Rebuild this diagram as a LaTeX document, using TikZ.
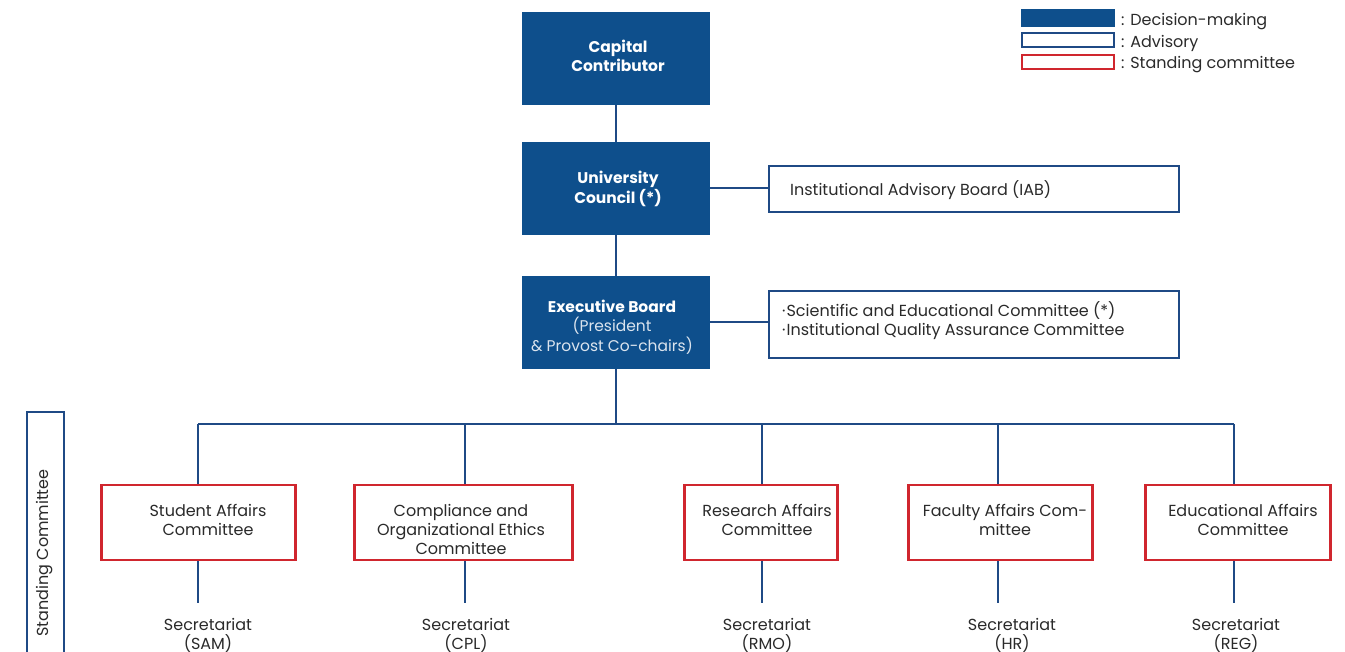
\documentclass[tikz,border=0pt]{standalone}
\usepackage{fontspec}
\setmainfont{Poppins}
\definecolor{dblue}{HTML}{0E4F8C}
\definecolor{lblue}{HTML}{1F4A85}
\definecolor{cred}{HTML}{D0262E}
\definecolor{tgray}{HTML}{2A2A2A}
\tikzset{
  decision/.style={fill=dblue, draw=none, minimum width=188pt, minimum height=93pt, inner sep=0pt},
  dectext/.style={text=white, align=center, font=\fontsize{15.5}{19.5}\selectfont, inner sep=0pt},
  advisory/.style={draw=lblue, line width=2pt, fill=white, inner sep=0pt},
  standing/.style={draw=cred, line width=2.4pt, fill=white, inner sep=0pt, minimum height=75pt},
  link/.style={draw=lblue, line width=2pt},
  txt/.style={text=tgray, align=center, font=\fontsize{16}{19}\selectfont, inner sep=0pt},
  ltxt/.style={text=tgray, align=left, font=\fontsize{16}{19}\selectfont, inner sep=0pt, anchor=west},
}
\begin{document}
\begin{tikzpicture}[x=1pt,y=-1pt]
\useasboundingbox (0,0) rectangle (1345,652);
% legend
\node[decision, minimum width=94pt, minimum height=18pt] (lg1) at (1068,18) {};
\node[advisory, minimum width=92pt, minimum height=14pt] (lg2) at (1068,40.5) {};
\node[standing, minimum width=92pt, minimum height=14pt, line width=2pt] (lg3) at (1068,62.5) {};
\node[ltxt] (lt1) at (1121,22) {: Decision-making};
\node[ltxt] (lt2) at (1121,43) {: Advisory};
\node[ltxt] (lt3) at (1121,65) {: Standing committee};
% decision boxes
\node[decision] (cap) at (616,58.5) {};
\node[dectext] (capt) at (618,56) {\textbf{Capital}\\\textbf{Contributor}};
\node[decision] (uc) at (616,188.5) {};
\node[dectext] (uct) at (618,189) {\textbf{University}\\\textbf{Council (*)}};
\node[decision] (eb) at (616,322.5) {};
\node[dectext] (ebt) at (612,327) {\textbf{Executive Board}\\{\color{white!85!dblue}(President}\\{\color{white!85!dblue}\& Provost Co-chairs)}};
% advisory boxes
\node[advisory, minimum width=410pt, minimum height=46pt] (iab) at (974,189.5) {};
\node[ltxt] (iabt) at (790,190) {Institutional Advisory Board (IAB)};
\node[advisory, minimum width=410pt, minimum height=67pt] (com) at (974,325) {};
\node[ltxt] (comt) at (782,321) {·\kern1pt Scientific and Educational Committee (*)\\·\kern1pt Institutional Quality Assurance Committee};
% connectors top
\draw[link] (cap.south) -- (uc.north);
\draw[link] (uc.south) -- (eb.north);
\draw[link] (uc.east) -- (uc.east -| iab.west);
\draw[link] (eb.east) -- (eb.east -| com.west);
% bus
\coordinate (bus) at (616,424);
\coordinate (t1) at (198,424);
\coordinate (t2) at (465,424);
\coordinate (t3) at (762,424);
\coordinate (t4) at (998,424);
\coordinate (t5) at (1234,424);
\draw[link] (eb.south) -- (bus);
\draw[link] (t1) -- (t5);
% standing committees
\node[standing, minimum width=194pt] (c1) at (198.5,522.5) {};
\node[standing, minimum width=218pt] (c2) at (463.5,522.5) {};
\node[standing, minimum width=153pt] (c3) at (761,522.5) {};
\node[standing, minimum width=184pt] (c4) at (1000.5,522.5) {};
\node[standing, minimum width=185pt] (c5) at (1238,522.5) {};
\node[txt] (c1t) at (208,520) {Student Affairs\\Committee};
\node[txt] (c2t) at (461,529.5) {Compliance and\\Organizational Ethics\\Committee};
\node[txt] (c3t) at (767,520) {Research Affairs\\Committee};
\node[txt] (c4t) at (1005,520) {Faculty Affairs Com-\\mittee};
\node[txt] (c5t) at (1243,520) {Educational Affairs\\Committee};
\foreach \i in {1,...,5} {
  \draw[link] (t\i) -- (t\i |- c\i.north);
}
\coordinate (b1) at (198,603);
\coordinate (b2) at (465,603);
\coordinate (b3) at (762,603);
\coordinate (b4) at (998,603);
\coordinate (b5) at (1234,603);
\foreach \i in {1,...,5} {
  \draw[link] (b\i |- c\i.south) -- (b\i);
}
\node[txt] (s1) at (208,635.5) {Secretariat\\(SAM)};
\node[txt] (s2) at (466,635.5) {Secretariat\\(CPL)};
\node[txt] (s3) at (767,635.5) {Secretariat\\(RMO)};
\node[txt] (s4) at (1012,635.5) {Secretariat\\(HR)};
\node[txt] (s5) at (1236,635.5) {Secretariat\\(REG)};
% vertical standing committee label
\node[advisory, minimum width=37pt, minimum height=250pt] (sc) at (45,537) {};
\node[txt, rotate=90] (sct) at (45,553) {Standing Committee};
\end{tikzpicture}
\end{document}
